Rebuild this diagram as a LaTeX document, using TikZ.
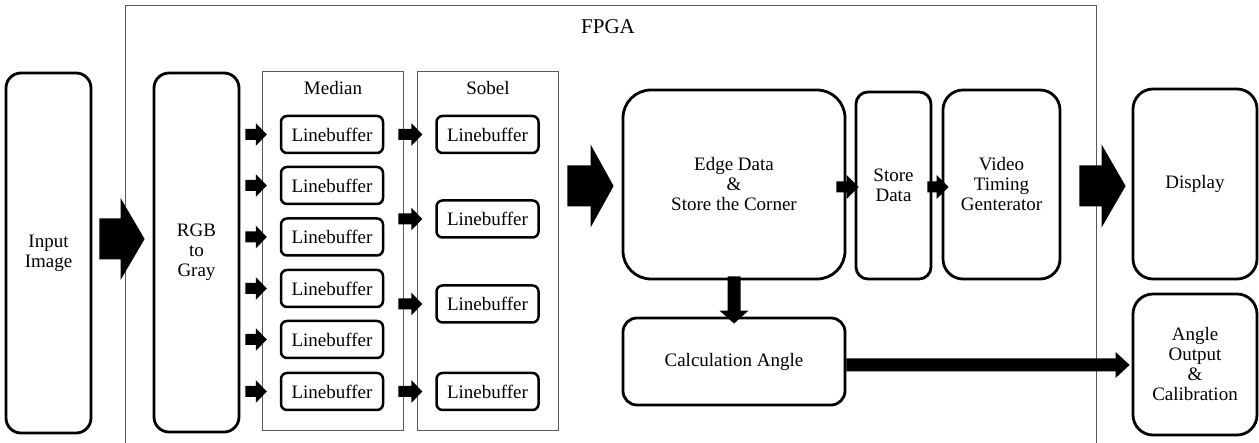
\documentclass[tikz,border=0pt]{standalone}
\usepackage{fontspec}
\setmainfont{Liberation Serif}
\usetikzlibrary{calc}

\tikzset{
  box/.style={draw, line width=2.8pt, align=center, inner sep=0pt,
    font=\fontsize{19}{20}\selectfont},
  lbuf/.style={draw, line width=2.5pt, rounded corners=6pt, align=center,
    inner sep=0pt, minimum width=102pt, minimum height=37pt,
    font=\fontsize{19}{20}\selectfont},
  frame/.style={draw=black!65, line width=0.9pt},
  lbl/.style={font=\fontsize{19}{20}\selectfont, inner sep=0pt},
  % filled block arrow pointing right: shaft half width, head half width, head length
  fatright/.style n args={3}{to path={let \p1=(\tikztostart), \p2=(\tikztotarget) in
    (\x1,\y1+#1) -- (\x2-#3,\y1+#1) -- (\x2-#3,\y1+#2) -- (\x2,\y1)
    -- (\x2-#3,\y1-#2) -- (\x2-#3,\y1-#1) -- (\x1,\y1-#1) -- cycle}},
  % filled block arrow pointing down
  fatdown/.style n args={3}{to path={let \p1=(\tikztostart), \p2=(\tikztotarget) in
    (\x1-#1,\y1) -- (\x1-#1,\y2+#3) -- (\x1-#2,\y2+#3) -- (\x1,\y2)
    -- (\x1+#2,\y2+#3) -- (\x1+#1,\y2+#3) -- (\x1+#1,\y1) -- cycle}},
}

\begin{document}
\begin{tikzpicture}[x=1pt, y=-1pt]
\useasboundingbox (0,0) rectangle (1259,443);

% FPGA region (open at the bottom)
\draw[frame] (125,443) -- (125,5) -- (1096,5) -- (1096,443);
\node[lbl, font=\fontsize{21}{24}\selectfont] (fpga) at (608,27) {FPGA};

% outer blocks
\node[box, rounded corners=15pt, minimum width=85pt, minimum height=360pt] (inp) at (48.5,253) {Input\\Image};
\node[box, rounded corners=15pt, minimum width=85pt, minimum height=359pt] (rgb) at (196.5,252.5) {RGB\\to\\Gray};

% median filter group
\node[frame, minimum width=141pt, minimum height=359pt, inner sep=0pt] (median) at (332.5,250.5) {};
\node[lbl] (mlabel) at (333,88) {Median};
\foreach \i/\y in {1/134.5, 2/185.5, 3/237, 4/288.5, 5/339.5, 6/391.5}
  \node[lbuf] (mlb\i) at (332,\y) {Linebuffer};

% sobel filter group
\node[frame, minimum width=141pt, minimum height=359pt, inner sep=0pt] (sobel) at (487.5,250.5) {};
\node[lbl] (slabel) at (488,88) {Sobel};
\foreach \i/\y in {1/134.5, 2/219, 3/304, 4/391.5}
  \node[lbuf] (slb\i) at (487.5,\y) {Linebuffer};

% processing blocks
\node[box, rounded corners=28pt, minimum width=222pt, minimum height=189pt] (edge) at (734,184.5) {Edge Data\\\&\\Store the Corner};
\node[box, rounded corners=14pt, minimum width=222pt, minimum height=87pt] (calc) at (734,361.5) {Calculation Angle};
\node[box, rounded corners=12pt, minimum width=75pt, minimum height=187pt] (store) at (893.5,185.5) {Store\\Data};
\node[box, rounded corners=20pt, minimum width=117pt, minimum height=189pt] (video) at (1001.5,184.5) {Video\\Timing\\Genterator};

% outputs
\node[box, rounded corners=20pt, minimum width=124pt, minimum height=190pt] (disp) at (1195,184) {Display};
\node[box, rounded corners=20pt, minimum width=124pt, minimum height=141pt] (angle) at (1195,364.5) {Angle\\Output\\\&\\Calibration};

% block arrows
\fill ($(inp.east)+(7,-14)$) to[fatright={20.5pt}{41pt}{24pt}] ($(rgb.west)+(-8,0)$);
\fill ($(sobel.east |- edge.center)+(9,1.5)$) to[fatright={20.5pt}{41.5pt}{23pt}] ($(edge.west)+(-8,0)$);
\fill ($(video.east)+(18,1.5)$) to[fatright={20.5pt}{41.5pt}{24pt}] ($(disp.west)+(-6,0)$);

\foreach \i in {1,...,6}
  \fill ($(rgb.east |- mlb\i)+(5,0)$) to[fatright={5.5pt}{11.5pt}{11pt}] ($(mlb\i.west)+(-13,0)$);
\foreach \i in {1,...,4}
  \fill ($(median.east |- slb\i)+(-5,0)$) to[fatright={5.5pt}{11.5pt}{11pt}] ($(slb\i.west)+(-13,0)$);

\fill ($(edge.east)+(-10,2.5)$) to[fatright={5.5pt}{12pt}{12pt}] ($(store.west)+(4,0)$);
\fill ($(store.east)+(-5,1.5)$) to[fatright={5.5pt}{12pt}{12pt}] ($(video.west)+(7,0)$);
\fill ($(calc.east)+(0,3.5)$) to[fatright={6.5pt}{13pt}{14pt}] ($(angle.west)+(-2,0)$);
\fill ($(edge.south)+(0,-4)$) to[fatdown={6.5pt}{14.5pt}{13pt}] ($(calc.north)+(0,7)$);
\end{tikzpicture}
\end{document}
